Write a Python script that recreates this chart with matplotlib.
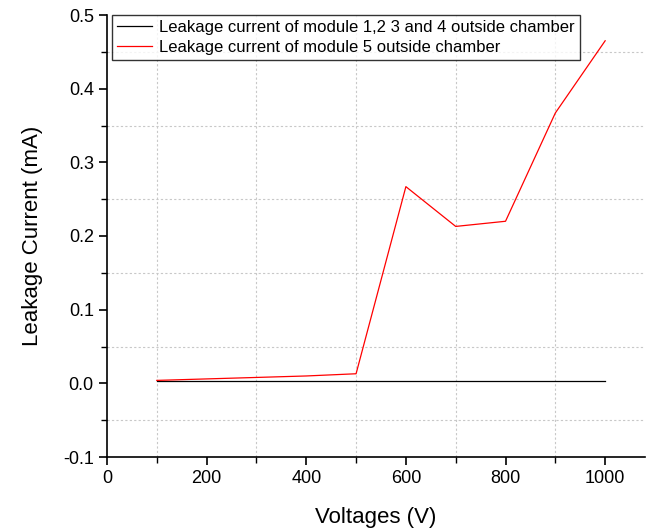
import matplotlib.pyplot as plt
from matplotlib.ticker import MultipleLocator

plt.rcParams['font.family'] = ['Liberation Sans', 'DejaVu Sans']

voltage = [100, 200, 300, 400, 500, 600, 700, 800, 900, 1000]
current_1234 = [0.003, 0.003, 0.003, 0.003, 0.003, 0.003, 0.003, 0.003, 0.003, 0.003]
current_5 = [0.004, 0.006, 0.008, 0.010, 0.013, 0.267, 0.213, 0.220, 0.367, 0.465]

fig = plt.figure(figsize=(6.47, 5.29), dpi=100)
ax = fig.add_axes([107/647, 1 - 457/529, (645-107)/647, (457-15)/529])

ax.plot(voltage, current_1234, color='black', lw=0.9, label='Leakage current of module 1,2 3 and 4 outside chamber')
ax.plot(voltage, current_5, color='red', lw=0.9, label='Leakage current of module 5 outside chamber')

ax.set_xlim(0, 1080)
ax.set_ylim(-0.1, 0.5)
ax.xaxis.set_major_locator(MultipleLocator(200))
ax.xaxis.set_minor_locator(MultipleLocator(100))
ax.yaxis.set_major_locator(MultipleLocator(0.1))
ax.yaxis.set_minor_locator(MultipleLocator(0.05))
ax.yaxis.set_major_formatter(plt.FuncFormatter(lambda v, p: f'{v:.1f}'))
ax.grid(which='minor', color='#c8c8c8', ls=(0, (2, 2)), lw=0.8)

for s in ['top', 'right']:
    ax.spines[s].set_visible(False)
for s in ['left', 'bottom']:
    ax.spines[s].set_linewidth(1.2)
ax.tick_params(which='major', length=6, width=1.2, labelsize=13, direction='out')
ax.tick_params(which='minor', length=4, width=1.0, direction='out')

ax.set_xlabel('Voltages (V)', fontsize=16, labelpad=14)
ax.set_ylabel('Leakage Current (mA)', fontsize=16, labelpad=14)

leg = ax.legend(loc='upper left', fontsize=12, frameon=True, fancybox=False, edgecolor='black',
                borderpad=0.3, handlelength=2.1, labelspacing=0.3, handletextpad=0.45,
                borderaxespad=0, bbox_to_anchor=(0.009, 1.0))
leg.get_frame().set_linewidth(1.0)

fig.savefig('out.png', dpi=100)
